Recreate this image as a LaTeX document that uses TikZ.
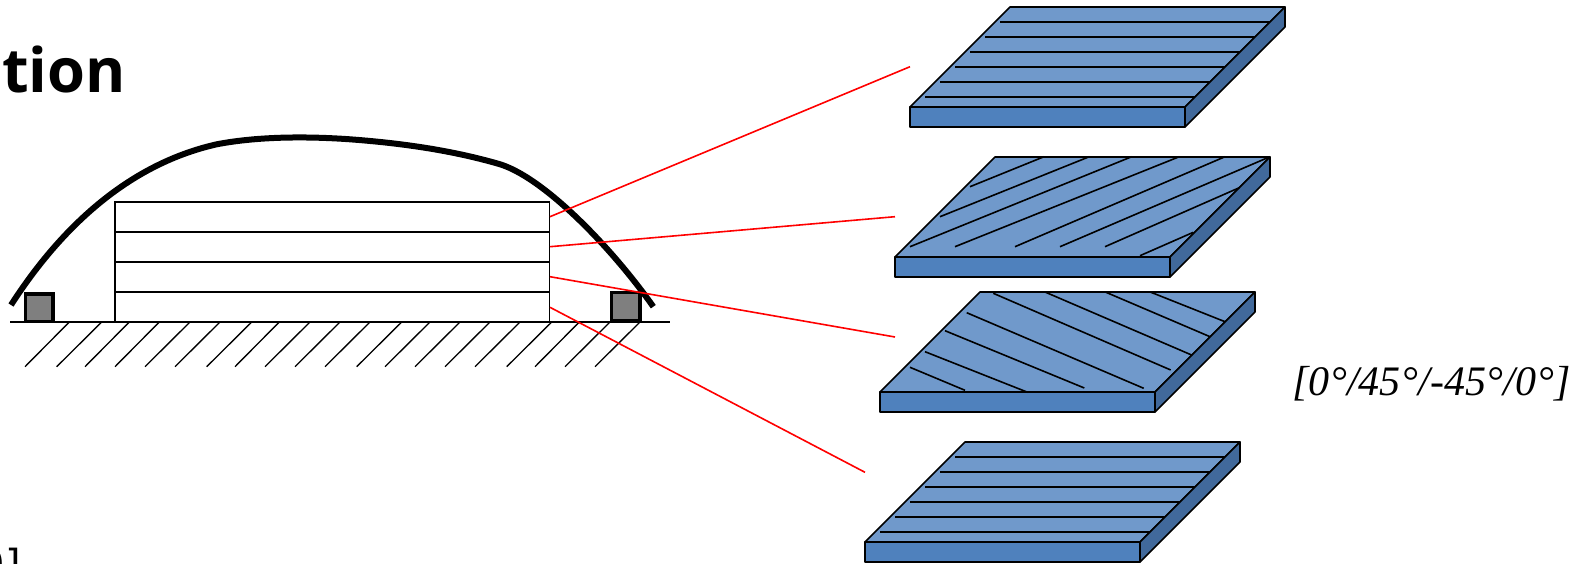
\documentclass[tikz,border=0pt]{standalone}
\usepackage{fontspec}
\newfontfamily\titlefont{Open Sans}[Scale=1]
\newfontfamily\layfont{Liberation Serif}
\newfontfamily\cutfont{DejaVu Sans}
\definecolor{platetop}{HTML}{7099CB}
\definecolor{platefront}{HTML}{4F81BD}
\definecolor{plateside}{HTML}{41699B}
\definecolor{blockgray}{HTML}{7F7F7F}
\tikzset{
  thinline/.style={draw=black,line width=1.2pt},
  fibre/.style={draw=black,line width=1.2pt},
  leader/.style={draw=red,line width=1.2pt},
  hatch/.style={draw=black,line width=1pt},
  support/.style={draw=black,fill=blockgray,line width=2.6pt},
  membrane/.style={draw=black,line width=4.5pt},
  plyface/.style={draw=black,line width=1.2pt,line join=round},
}
\newcommand{\plate}[2]{%
  \begin{scope}[shift={(#1,#2)}]
    \path[plyface,fill=platetop] (910,107) -- (1010,7) -- (1285,7) -- (1185,107) -- cycle;
    \path[plyface,fill=platefront] (910,107) -- (1185,107) -- (1185,127) -- (910,127) -- cycle;
    \path[plyface,fill=plateside] (1185,107) -- (1285,7) -- (1285,27) -- (1185,127) -- cycle;
  \end{scope}}
\newcommand{\zerofibres}[2]{%
  \begin{scope}[shift={(#1,#2)}]
    \foreach \k in {0,...,5}
      \draw[fibre] (1000-15*\k,21.7+15*\k) -- (1270-15*\k,21.7+15*\k);
  \end{scope}}
\newcommand{\dg}{\kern0.6pt°}
\begin{document}
\begin{tikzpicture}[x=0.75pt,y=-0.75pt]
\useasboundingbox (0,0) rectangle (1585,564);
\clip (0,0) rectangle (1585,564);
% title fragment
\node[anchor=base east,inner sep=0pt,font=\titlefont\bfseries\fontsize{46}{50}\selectfont] (title) at (126,92) {ntion};
\node[anchor=base east,inner sep=0pt,font=\cutfont\fontsize{30}{34}\selectfont] (cut) at (21,578) {0]};
% ground
\draw[thinline] (10,322) -- (670,322);
\foreach \a/\b in {25/69.3,56.7/101.7,85/129.3,115/159.3,145/190,175/220,206.7/251.7,235/279.3,265/310,295/340,325/370,356.7/401.7,385/430,415/460,445/490,475/520,506.7/551.7,535/579.3,565/610,595/640}
  \draw[hatch] (\a,366.7) -- (\b,322);
% laminate
\node[draw=black,line width=1.2pt,minimum width=326pt,minimum height=90pt,inner sep=0pt,anchor=north west] (stack) at (114.2,201.2) {};
\draw[thinline] (115,231.7) -- (550,231.7);
\draw[thinline] (115,261.7) -- (550,261.7);
\draw[thinline] (115,291.7) -- (550,291.7);
% supports
\draw[support] (25.5,294) rectangle (53,321.5);
\draw[support] (611.7,292.5) rectangle (640,320.5);
% membrane
\draw[membrane] (11,305) .. controls (58,232) and (125,165) .. (216.7,144.3)
  .. controls (260,136) and (310,136.5) .. (350,139.3)
  .. controls (400,143) and (450,150) .. (496.7,163.3)
  .. controls (542,175) and (612,248) .. (653.3,306.7);
% plates
\plate{0}{0}
\zerofibres{0}{0}
\plate{-15}{150}
\foreach \a/\b/\c/\d in {970/186.7/1044/156.7,940/216.7/1089.3/156.7,910/246.7/1131.7/156.7,955/246.7/1179.3/156.7,1015/246.7/1225/156.7,1060/246.7/1270/156.7,1105/246.7/1239.3/187.7,1140/255.7/1193.3/232.3}
  \draw[fibre] (\a,\b) -- (\c,\d);
\plate{-30}{285}
\foreach \a/\b/\c/\d in {910/367.3/965/390.3,925/351.7/1027.7/392.3,945/330.7/1084.3/388,966.7/312.7/1143.7/388.3,993.3/293.3/1170.7/370,1045.7/292.3/1192.3/355.3,1106/292.3/1210/336.7,1151/292.3/1225/321.7}
  \draw[fibre] (\a,\b) -- (\c,\d);
\plate{-45}{435}
\zerofibres{-45}{435}
% leaders
\coordinate (s1) at (550,216.7); \coordinate (e1) at (910,66.7);
\coordinate (s2) at (550,246.7); \coordinate (e2) at (895,216.7);
\coordinate (s3) at (550,276.7); \coordinate (e3) at (895,337);
\coordinate (s4) at (550,307.3); \coordinate (e4) at (865,472.3);
\draw[leader] (s1) -- (e1);
\draw[leader] (s2) -- (e2);
\draw[leader] (s3) -- (e3);
\draw[leader] (s4) -- (e4);
% layup
\node[anchor=base west,inner sep=0pt,font=\layfont\itshape\fontsize{31.5}{36}\selectfont] (layup) at (1292,395) {[0\dg/45\dg/-45\dg/0\dg]};
\end{tikzpicture}
\end{document}
